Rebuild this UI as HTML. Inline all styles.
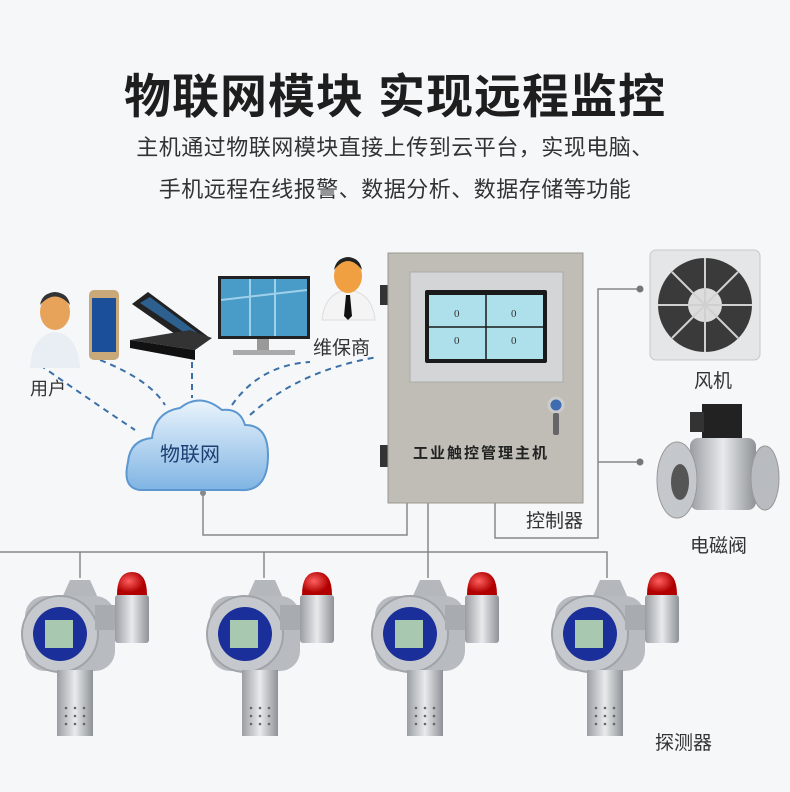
<!DOCTYPE html>
<html><head><meta charset="utf-8"><style>
body{margin:0;width:790px;height:792px;background:#f6f7f9;overflow:hidden;position:relative;font-family:"Liberation Sans","Noto Sans CJK SC",sans-serif;}
.t{position:absolute;white-space:nowrap;color:#333;}
</style></head><body>
<div class="t" style="left:0;width:790px;text-align:center;top:58px;font-size:47px;font-weight:bold;color:#1e1e1e;letter-spacing:1px;">物联网模块 实现远程监控</div>
<div class="t" style="left:0;width:790px;text-align:center;top:130px;font-size:22px;color:#333;letter-spacing:0.5px;">主机通过物联网模块直接上传到云平台，实现电脑、</div>
<div class="t" style="left:0;width:790px;text-align:center;top:172px;font-size:22px;color:#333;letter-spacing:0.5px;">手机远程在线报警、数据分析、数据存储等功能</div>

<svg width="790" height="792" style="position:absolute;left:0;top:0">
<defs>
<linearGradient id="cl" x1="0" y1="0" x2="0" y2="1"><stop offset="0" stop-color="#eaf4fc"/><stop offset="1" stop-color="#7fb4e3"/></linearGradient>
<linearGradient id="met" x1="0" y1="0" x2="1" y2="0"><stop offset="0" stop-color="#9a9ea3"/><stop offset=".5" stop-color="#e8eaec"/><stop offset="1" stop-color="#8e9297"/></linearGradient>
<radialGradient id="red" cx=".4" cy=".4"><stop offset="0" stop-color="#ff6060"/><stop offset="1" stop-color="#b00000"/></radialGradient>
</defs>
<g fill="none" stroke="#3a6fa8" stroke-width="2" stroke-dasharray="6,5">
<path d="M40 365 Q90 400 135 430"/>
<path d="M100 360 Q150 380 165 405"/>
<path d="M192 362 L192 398"/>
<path d="M232 405 Q260 365 310 362"/>
<path d="M250 415 Q300 370 378 357"/>
</g>
<g fill="none" stroke="#888" stroke-width="1.5">
<path d="M203 493 V535 H407 V503"/>
<path d="M428 503 V578"/>
<path d="M0 552 H607 V578"/>
<path d="M80 552 V578 M264 552 V578"/>
<path d="M495 503 V538 H598 V289 H640 M598 462 H640"/>
</g>
<circle cx="203" cy="493" r="3" fill="#888"/><circle cx="640" cy="289" r="3.5" fill="#777"/><circle cx="640" cy="462" r="3.5" fill="#777"/>
<path d="M140 490 Q122 488 128 462 Q130 440 152 438 Q155 412 180 408 Q200 392 222 410 Q240 408 245 425 Q268 425 268 455 Q268 492 240 490 Z" fill="url(#cl)" stroke="#5c97d0" stroke-width="2"/>
<text x="160" y="461" font-size="20" fill="#1c3f73" font-family="Liberation Sans,Noto Sans CJK SC,sans-serif">物联网</text>
<path d="M30 368 Q32 335 55 332 Q78 335 80 368 Z" fill="#e8eef4"/><ellipse cx="55" cy="312" rx="15" ry="18" fill="#e8a35a"/><path d="M40 305 Q55 288 70 305 Q68 293 55 292 Q42 293 40 305Z" fill="#333"/>
<rect x="89" y="290" width="30" height="70" rx="5" fill="#c9a87a"/><rect x="92" y="298" width="24" height="54" fill="#1b4f9a"/>
<polygon points="148,292 210,338 195,348 132,304" fill="#222"/><polygon points="150,297 203,337 197,341 140,303" fill="#2d5f8f"/><polygon points="130,340 195,350 212,338 190,330" fill="#333"/><polygon points="130,340 195,350 195,360 130,348" fill="#111"/>
<rect x="218" y="276" width="92" height="63" fill="#222"/><rect x="221" y="279" width="86" height="57" fill="#4a9cc8"/><path d="M221 300 L307 290 M250 279 V336 M275 279 V336" stroke="#9fd0ea" stroke-width="2"/><rect x="257" y="339" width="12" height="12" fill="#999"/><rect x="233" y="350" width="62" height="5" fill="#aaa"/>
<path d="M322 320 Q325 292 348 290 Q372 292 375 320 Z" fill="#f4f4f4" stroke="#ddd"/><ellipse cx="348" cy="276" rx="14" ry="17" fill="#f0a040"/><path d="M334 270 Q348 252 362 270 Q360 258 348 257 Q336 258 334 270Z" fill="#222"/><path d="M346 295 L350 295 L352 316 L348 320 L344 316Z" fill="#111"/>
<rect x="380" y="285" width="9" height="20" fill="#333"/><rect x="380" y="445" width="9" height="22" fill="#333"/>
<rect x="388" y="253" width="195" height="250" fill="#bfbdb6" stroke="#9a9890"/>
<rect x="410" y="272" width="153" height="110" fill="#d4d5d6" stroke="#aaa"/>
<rect x="425" y="290" width="122" height="73" rx="2" fill="#1a1a1a"/>
<rect x="429" y="295" width="114" height="64" fill="#aee0ec"/>
<path d="M486 295 V359 M429 327 H543" stroke="#1a1a1a" stroke-width="1.5"/>
<g font-size="11" fill="#333" font-family="Liberation Serif,serif"><text x="454" y="317">0</text><text x="511" y="317">0</text><text x="454" y="344">0</text><text x="511" y="344">0</text></g>
<circle cx="556" cy="405" r="7" fill="#3d6db0" stroke="#ccc" stroke-width="3"/><rect x="553" y="413" width="6" height="22" rx="2" fill="#666"/>
<text x="413" y="458" font-size="15" font-weight="bold" fill="#222" font-family="Liberation Sans,Noto Sans CJK SC,sans-serif" letter-spacing="2">工业触控管理主机</text>
<rect x="650" y="250" width="110" height="110" rx="6" fill="#e4e6e8" stroke="#c8c8c8"/>
<circle cx="705" cy="305" r="47" fill="#3a3a3a"/><circle cx="705" cy="305" r="17" fill="#dcdcdc"/>
<path d="M705 258 V352 M658 305 H752 M672 272 L738 338 M738 272 L672 338" stroke="#d0d0d0" stroke-width="2"/>
<rect x="702" y="404" width="40" height="36" fill="#222"/><rect x="690" y="412" width="14" height="20" fill="#333"/>
<rect x="690" y="438" width="66" height="72" rx="8" fill="url(#met)"/>
<ellipse cx="677" cy="480" rx="20" ry="38" fill="#c4c7cb" stroke="#999"/><ellipse cx="680" cy="482" rx="9" ry="18" fill="#555"/>
<ellipse cx="765" cy="478" rx="14" ry="32" fill="#b8bbbf" stroke="#999"/>
<g id="d">
<polygon points="70,580 90,580 98,598 62,598" fill="#b4b8bc"/>
<rect x="25" y="596" width="90" height="75" rx="20" fill="#b8bcc0"/>
<circle cx="60" cy="634" r="38" fill="#c5c9cd" stroke="#a0a4a8" stroke-width="2"/>
<circle cx="60" cy="634" r="27" fill="#1a2f9a"/>
<rect x="45" y="620" width="28" height="28" fill="#a8c8b0"/>
<rect x="95" y="605" width="22" height="25" fill="#a8acb0"/>
<rect x="115" y="595" width="34" height="48" rx="3" fill="url(#met)"/>
<path d="M117 595 Q117 572 132 572 Q147 572 147 595Z" fill="url(#red)"/>
<rect x="57" y="670" width="36" height="66" fill="url(#met)"/>
<g fill="#666"><circle cx="66" cy="708" r="1.3"/><circle cx="75" cy="708" r="1.3"/><circle cx="84" cy="708" r="1.3"/><circle cx="66" cy="716" r="1.3"/><circle cx="75" cy="716" r="1.3"/><circle cx="84" cy="716" r="1.3"/><circle cx="66" cy="724" r="1.3"/><circle cx="75" cy="724" r="1.3"/><circle cx="84" cy="724" r="1.3"/></g>
</g>
<use href="#d" x="185"/><use href="#d" x="350"/><use href="#d" x="530"/>
</svg>
<div class="t" style="left:30px;top:375px;font-size:18px;">用户</div>
<div class="t" style="left:313px;top:333px;font-size:19px;">维保商</div>
<div class="t" style="left:526px;top:506px;font-size:19px;">控制器</div>
<div class="t" style="left:694px;top:366px;font-size:19px;">风机</div>
<div class="t" style="left:690px;top:531px;font-size:19px;">电磁阀</div>
<div class="t" style="left:655px;top:728px;font-size:19px;">探测器</div>
</body></html>
